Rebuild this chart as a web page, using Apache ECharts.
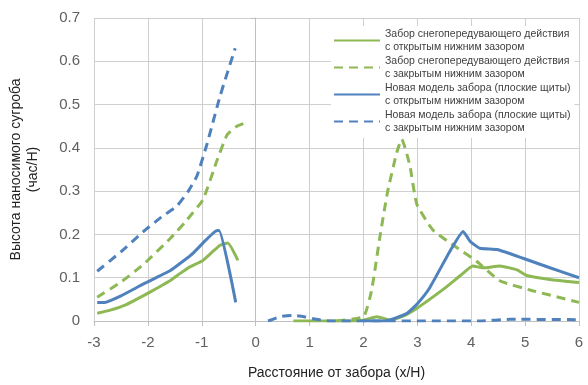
<!DOCTYPE html>
<html>
<head>
<meta charset="utf-8">
<script src="https://cdn.jsdelivr.net/npm/echarts@6/dist/echarts.min.js"></script>
<style>
html, body { margin: 0; padding: 0; background: #fff; }
#chart { width: 588px; height: 385px; }
</style>
</head>
<body>
<div id="chart"></div>
<script>
// легенда
var legendList = [
    'Забор снегопередувающего действия\nс открытым нижним зазором',
    'Забор снегопередувающего действия\nс закрытым нижним зазором',
    'Новая модель забора (плоские щиты)\nс открытым нижним зазором',
    'Новая модель забора (плоские щиты)\nс закрытым нижним зазором'
];
var xTicks = [-3, -2, -1, 0, 1, 2, 3, 4, 5, 6];
var yTicks = [0, 0.1, 0.2, 0.3, 0.4, 0.5, 0.6, 0.7];

// [x/H, h/H], '-' = разрыв линии
var greenOpen = [
    [-2.94, 0.018], [-2.7, 0.025], [-2.4, 0.038], [-2.09, 0.058], [-1.8, 0.078], [-1.59, 0.093],
    [-1.4, 0.11], [-1.22, 0.125], [-0.98, 0.14], [-0.8, 0.16], [-0.66, 0.175], [-0.52, 0.18], [-0.33, 0.14],
    [0, '-'],
    [0.7, 0], [1.5, 0], [2.0, 0.002], [2.25, 0.01], [2.5, 0.002], [2.75, 0.012], [3.0, 0.03], [3.48, 0.073],
    [3.8, 0.105], [4.03, 0.127], [4.22, 0.123], [4.53, 0.127], [4.85, 0.118], [5.03, 0.105], [5.46, 0.096], [6, 0.089]
];
var greenClosed = [
    [-2.94, 0.055], [-2.5, 0.09], [-2.09, 0.13], [-1.59, 0.19], [-1.3, 0.23], [-0.98, 0.28],
    [-0.72, 0.37], [-0.53, 0.43], [-0.35, 0.45], [-0.14, 0.46],
    [0, '-'],
    [1.5, 0], [2.0, 0.01], [2.15, 0.07], [2.3, 0.19], [2.45, 0.3], [2.62, 0.39], [2.71, 0.42], [2.86, 0.36],
    [2.99, 0.27], [3.29, 0.21], [3.73, 0.17], [4.1, 0.138], [4.53, 0.093], [5.14, 0.07], [6, 0.043]
];
var blueOpen = [
    [-2.94, 0.043], [-2.8, 0.043], [-2.5, 0.058], [-2.09, 0.085], [-1.8, 0.103], [-1.59, 0.116],
    [-1.35, 0.138], [-1.16, 0.157], [-0.94, 0.185], [-0.75, 0.207], [-0.68, 0.209], [-0.37, 0.043],
    [0, '-'],
    [2.0, 0], [2.4, 0], [2.8, 0.017], [3.0, 0.04], [3.23, 0.077], [3.6, 0.16], [3.85, 0.207], [3.98, 0.184],
    [4.16, 0.168], [4.48, 0.165], [4.96, 0.145], [5.46, 0.123], [6, 0.1]
];
var blueClosed = [
    [-2.94, 0.115], [-2.5, 0.16], [-2.09, 0.206], [-1.75, 0.24], [-1.46, 0.266], [-1.25, 0.3],
    [-1.09, 0.335], [-0.9, 0.41], [-0.66, 0.52], [-0.38, 0.63],
    [0, '-'],
    [0.23, 0], [0.45, 0.01], [0.69, 0.013], [0.9, 0.01], [1.07, 0.005], [1.38, 0], [4.16, 0], [4.72, 0.004], [6, 0.003]
];

var green = '#8DB854';
var blue = '#4F81BD';
var labelColor = '#606060';

function line(name, data, color, dashed) {
    return {
        name: name, type: 'line', data: data, symbol: 'none', smooth: 0.15,
        connectNulls: false,
        lineStyle: { color: color, width: 3, type: dashed ? [9, 6] : 'solid' },
        itemStyle: { color: color }
    };
}

var chart = echarts.init(document.getElementById('chart'));
chart.setOption({
    animation: false,
    textStyle: { fontFamily: 'Liberation Sans' },
    grid: { left: 94, right: 9, top: 18, bottom: 61, containLabel: false },
    legend: {
        orient: 'vertical',
        left: 331,
        top: 26,
        itemWidth: 46,
        itemHeight: 12,
        itemGap: 2,
        padding: [2, 4, 4, 2],
        backgroundColor: '#fff',
        itemStyle: { opacity: 0 },
        textStyle: { color: '#404040', fontSize: 10.5, lineHeight: 12.5 },
        data: legendList
    },
    xAxis: {
        type: 'value',
        min: xTicks[0], max: xTicks[xTicks.length - 1], interval: 1,
        name: 'Расстояние от забора (x/H)',
        nameLocation: 'middle', nameGap: 45,
        nameTextStyle: { color: '#222', fontSize: 14 },
        splitLine: { show: true, lineStyle: { color: '#cfcfcf', width: 1 } },
        axisLine: { show: true, onZero: false, lineStyle: { color: '#bfbfbf' } },
        axisTick: { show: true, length: 5, lineStyle: { color: '#bfbfbf' } },
        axisLabel: { color: labelColor, fontSize: 15, margin: 14 }
    },
    yAxis: {
        type: 'value',
        min: yTicks[0], max: yTicks[yTicks.length - 1], interval: 0.1,
        name: 'Высота наносимого сугроба\n(час/Н)',
        nameLocation: 'middle', nameGap: 52,
        nameTextStyle: { color: '#222', fontSize: 14, lineHeight: 17 },
        splitLine: { show: true, lineStyle: { color: '#cfcfcf', width: 1 } },
        axisLine: { show: true, lineStyle: { color: '#bfbfbf' } },
        axisTick: { show: true, length: 5, lineStyle: { color: '#bfbfbf' } },
        axisLabel: {
            color: labelColor, fontSize: 15, margin: 14,
            formatter: function (v) { return v === 0 ? '0' : v.toFixed(1); }
        }
    },
    series: [
        line(legendList[0], greenOpen, green, false),
        line(legendList[1], greenClosed, green, true),
        line(legendList[2], blueOpen, blue, false),
        line(legendList[3], blueClosed, blue, true)
    ]
});
</script>
</body>
</html>
